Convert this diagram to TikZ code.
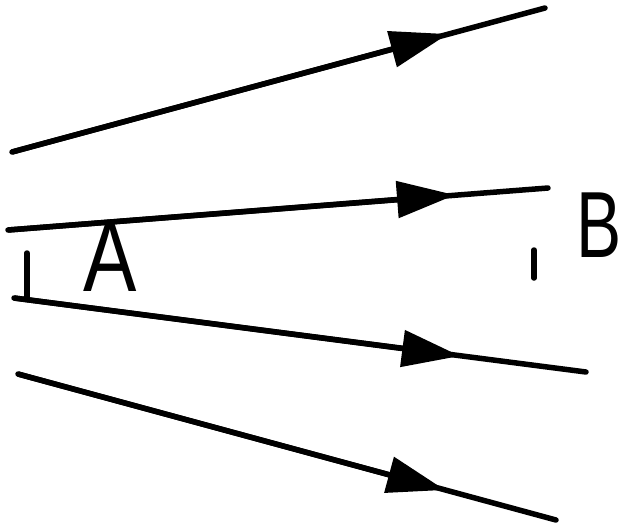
\documentclass[tikz,border=0pt]{standalone}
\usepackage{fontspec}
\setmainfont{Liberation Sans}
\usetikzlibrary{arrows.meta}
\begin{document}
\begin{tikzpicture}[x=1pt,y=-1pt,
  fline/.style={line width=5.5pt,line cap=round},
  farrow/.style={line width=5.5pt,-{Triangle[length=58pt,width=36pt]}},
  lbl/.style={inner sep=0pt,anchor=base west}]
\useasboundingbox (0,0) rectangle (626,531);
% line 1
\coordinate (a1) at (12,152);
\coordinate (t1) at (448,34);
\coordinate (b1) at (545,8);
\draw[fline] (a1) -- (b1);
\draw[farrow] (a1) -- (t1);
% line 2
\coordinate (a2) at (8,230);
\coordinate (t2) at (455,195);
\coordinate (b2) at (548,188);
\draw[fline] (a2) -- (b2);
\draw[farrow] (a2) -- (t2);
% line 3 with L mark
\coordinate (c3) at (27,253);
\coordinate (k3) at (27,298);
\coordinate (a3) at (14,298);
\coordinate (t3) at (460,356);
\coordinate (b3) at (586,372);
\draw[fline] (c3) -- (k3);
\draw[fline] (a3) -- (b3);
\draw[farrow] (a3) -- (t3);
% line 4
\coordinate (a4) at (18,374);
\coordinate (t4) at (445,490);
\coordinate (b4) at (556,520);
\draw[fline] (a4) -- (b4);
\draw[farrow] (a4) -- (t4);
% tick near B
\coordinate (p1) at (534,250);
\coordinate (p2) at (534,278);
\draw[fline] (p1) -- (p2);
% labels
\node[lbl,xscale=0.8] (A) at (83,291) {\fontsize{100}{100}\selectfont A};
\node[lbl,xscale=0.72] (B) at (576,257) {\fontsize{94}{94}\selectfont B};
\end{tikzpicture}
\end{document}
